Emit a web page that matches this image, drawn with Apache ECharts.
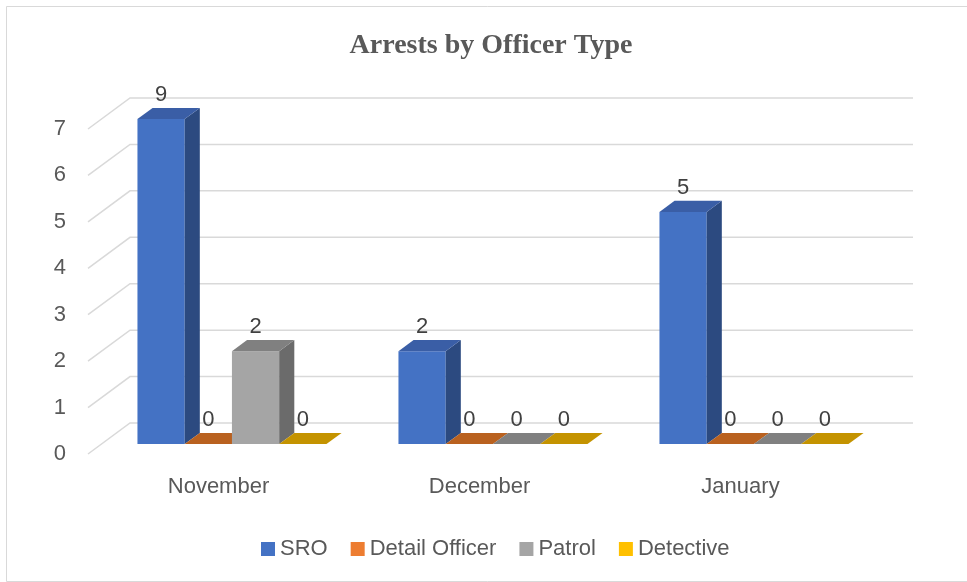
<!DOCTYPE html>
<html>
<head>
<meta charset="utf-8">
<script src="https://cdn.jsdelivr.net/npm/echarts@6/dist/echarts.min.js"></script>
<style>html,body{margin:0;padding:0;background:#fff}#c{width:967px;height:582px}</style>
</head>
<body>
<div id="c"></div>
<script>
const categories = ['November', 'December', 'January'];
const seriesNames = ['SRO', 'Detail Officer', 'Patrol', 'Detective'];
const sroValues = [9, 2, 5];
const detailOfficerValues = [0, 0, 0];
const patrolValues = [2, 0, 0];
const detectiveValues = [0, 0, 0];
const yTicks = [0, 1, 2, 3, 4, 5, 6, 7];

const allValues = [sroValues, detailOfficerValues, patrolValues, detectiveValues];
const Y_MAX = 7;
// 3D projection (pixel offset for full depth)
const DX = 42, DY = -31;
const D1 = 0.32, D2 = 0.68;
const BAR_FRAC = 0.181, GROUP_HALF = 0.362;
const palettes = [
  { front: '#4472C4', top: '#3A5EA6', side: '#2C4A80' },
  { front: '#ED7D31', top: '#B9611F', side: '#A0521A' },
  { front: '#A5A5A5', top: '#808080', side: '#6B6B6B' },
  { front: '#FFC000', top: '#C49300', side: '#A67C00' }
];
const FONT = '"Liberation Sans", Arial, sans-serif';

function barSeries(s) {
  const pal = palettes[s];
  return {
    name: seriesNames[s],
    type: 'custom',
    itemStyle: { color: pal.front },
    encode: { x: 0, y: 1 },
    clip: false,
    z: 3,
    data: allValues[s].map((v, i) => [i, v]),
    renderItem: function (params, api) {
      const cat = api.value(0);
      const v = api.value(1);
      const base = api.coord([cat, 0]);
      const top = api.coord([cat, Math.min(v, Y_MAX)]);
      const band = api.size([1, 0])[0];
      const bw = band * BAR_FRAC;
      const x0 = base[0] - band * GROUP_HALF + s * bw;
      const x1 = x0 + bw;
      const y0 = base[1], y1 = top[1];
      const p = (x, y, d) => [x + DX * d, y + DY * d];
      const children = [];
      if (y0 - y1 > 0.5) {
        children.push({ type: 'polygon', shape: { points: [p(x0, y0, D1), p(x1, y0, D1), p(x1, y1, D1), p(x0, y1, D1)] }, style: { fill: pal.front } });
        children.push({ type: 'polygon', shape: { points: [p(x1, y0, D1), p(x1, y0, D2), p(x1, y1, D2), p(x1, y1, D1)] }, style: { fill: pal.side } });
      }
      children.push({ type: 'polygon', shape: { points: [p(x0, y1, D1), p(x1, y1, D1), p(x1, y1, D2), p(x0, y1, D2)] }, style: { fill: pal.top } });
      const lp = p((x0 + x1) / 2, y1, D1);
      children.push({
        type: 'text',
        z2: 10,
        style: {
          text: String(v), x: lp[0], y: lp[1] - 24,
          align: 'center', verticalAlign: 'middle',
          font: '22px ' + FONT, fill: '#404040'
        }
      });
      return { type: 'group', children: children };
    }
  };
}

const gridSeries = {
  name: '__grid',
  type: 'custom',
  encode: { x: 0, y: 1 },
  clip: false,
  silent: true,
  z: 1,
  data: yTicks.map(v => [0, v]),
  renderItem: function (params, api) {
    const cs = params.coordSys;
    const y = api.coord([0, api.value(1)])[1];
    const xl = cs.x, xr = cs.x + cs.width;
    return {
      type: 'polyline',
      shape: { points: [[xl, y], [xl + DX, y + DY], [xr + DX, y + DY]] },
      style: { stroke: '#D9D9D9', lineWidth: 1.5, fill: null }
    };
  }
};

const chart = echarts.init(document.getElementById('c'));
chart.setOption({
  backgroundColor: '#ffffff',
  animation: false,
  title: {
    text: 'Arrests by Officer Type',
    left: 486, top: 27, textAlign: 'center',
    textStyle: { fontFamily: '"Liberation Serif", serif', fontWeight: 'bold', fontSize: 28, color: '#595959' }
  },
  legend: {
    data: seriesNames,
    left: 256, top: 533,
    itemWidth: 14, itemHeight: 14, itemGap: 23, icon: 'rect',
    textStyle: { fontFamily: FONT, fontSize: 22, color: '#595959' }
  },
  grid: { left: 88, right: 96, top: 129, bottom: 128, containLabel: false },
  xAxis: {
    type: 'category', data: categories, boundaryGap: true,
    axisLine: { show: false }, axisTick: { show: false }, splitLine: { show: false },
    axisLabel: { margin: 22, fontFamily: FONT, fontSize: 22, color: '#595959' }
  },
  yAxis: {
    type: 'value', min: 0, max: Y_MAX, interval: 1,
    axisLine: { show: false }, axisTick: { show: false }, splitLine: { show: false },
    axisLabel: { margin: 22, fontFamily: FONT, fontSize: 22, color: '#595959' }
  },
  graphic: [{
    type: 'rect', silent: true, z: 0,
    shape: { x: 6.5, y: 6.5, width: 990, height: 575 },
    style: { fill: null, stroke: '#D9D9D9', lineWidth: 1 }
  }],
  series: [gridSeries].concat([0, 1, 2, 3].map(barSeries))
});
</script>
</body>
</html>
